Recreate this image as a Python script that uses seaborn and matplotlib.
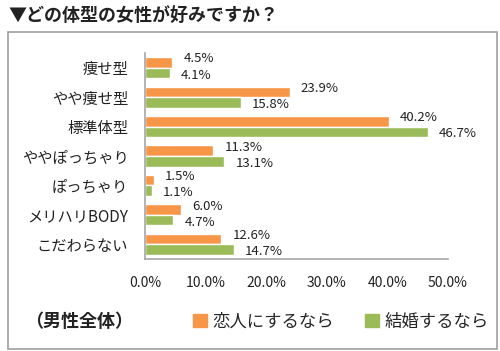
import seaborn as sns
import pandas as pd
import matplotlib.pyplot as plt
from matplotlib.patches import Rectangle

# data
categories = ['痩せ型', 'やや痩せ型', '標準体型', 'ややぽっちゃり', 'ぽっちゃり', 'メリハリBODY', 'こだわらない']
lover = [4.5, 23.9, 40.2, 11.3, 1.5, 6.0, 12.6]
marriage = [4.1, 15.8, 46.7, 13.1, 1.1, 4.7, 14.7]
series = ['恋人にするなら', '結婚するなら']
colors = ['#F79646', '#9BBB59']
xticks = [0, 10, 20, 30, 40, 50]

df = pd.DataFrame({
    'type': categories * 2,
    'value': lover + marriage,
    'who': [series[0]] * len(categories) + [series[1]] * len(categories),
})

sns.set_style("white")
fam = ['Noto Sans CJK JP', 'DejaVu Sans']
plt.rcParams['font.family'] = fam

fig = plt.figure(figsize=(5, 3.51), dpi=100)
ax = fig.add_axes([0.29, 0.262, 0.606, 0.587])

sns.barplot(data=df, x='value', y='type', hue='who', orient='h',
            palette=dict(zip(series, colors)), width=0.72, ax=ax,
            legend=False, saturation=1)

ax.set_xlim(0, 50)
ax.set_xticks(xticks)
ax.set_xticklabels([f'{t:.1f}%' for t in xticks], fontsize=10)
ax.set_xlabel('')
ax.set_ylabel('')
ax.tick_params(axis='x', length=0, pad=12, colors='#222222')
ax.tick_params(axis='y', length=0, pad=12, labelsize=11, colors='#222222')

for s in ['top', 'right']:
    ax.spines[s].set_visible(False)
for s in ['left', 'bottom']:
    ax.spines[s].set_color('#A6A6A6')
    ax.spines[s].set_linewidth(1.2)

# value labels: orange a bit above, green a bit below
offsets = [2.5, -1.5]
for cont, dy in zip(ax.containers, offsets):
    for bar in cont:
        w = bar.get_width()
        yc = bar.get_y() + bar.get_height() / 2
        ax.annotate(f'{w:.1f}%', (w, yc), xytext=(8, dy), textcoords='offset points',
                    va='center', ha='left', fontsize=9.5, color='#222222',
                    annotation_clip=False)

# title
fig.text(0.016, 0.955, '▼どの体型の女性が好みですか？', fontsize=13, fontweight='bold',
         va='center', ha='left', color='#222222')

# frame
fig.patches.append(Rectangle((0.016, 0.006), 0.978, 0.903, transform=fig.transFigure,
                             fill=False, edgecolor='#A0A0A0', linewidth=1.2))

# bottom legend
fig.text(0.05, 0.083, '（男性全体）', fontsize=13, fontweight='bold',
         va='center', ha='left', color='#222222')
handles = [Rectangle((0, 0), 1, 1, color=c) for c in colors]
fig.legend(handles, series, loc='center left', bbox_to_anchor=(0.355, 0.083),
           ncol=2, frameon=False, fontsize=12.5, handlelength=0.8, handleheight=0.8,
           handletextpad=0.3, columnspacing=1.8)

fig.savefig('out.png', dpi=100)
